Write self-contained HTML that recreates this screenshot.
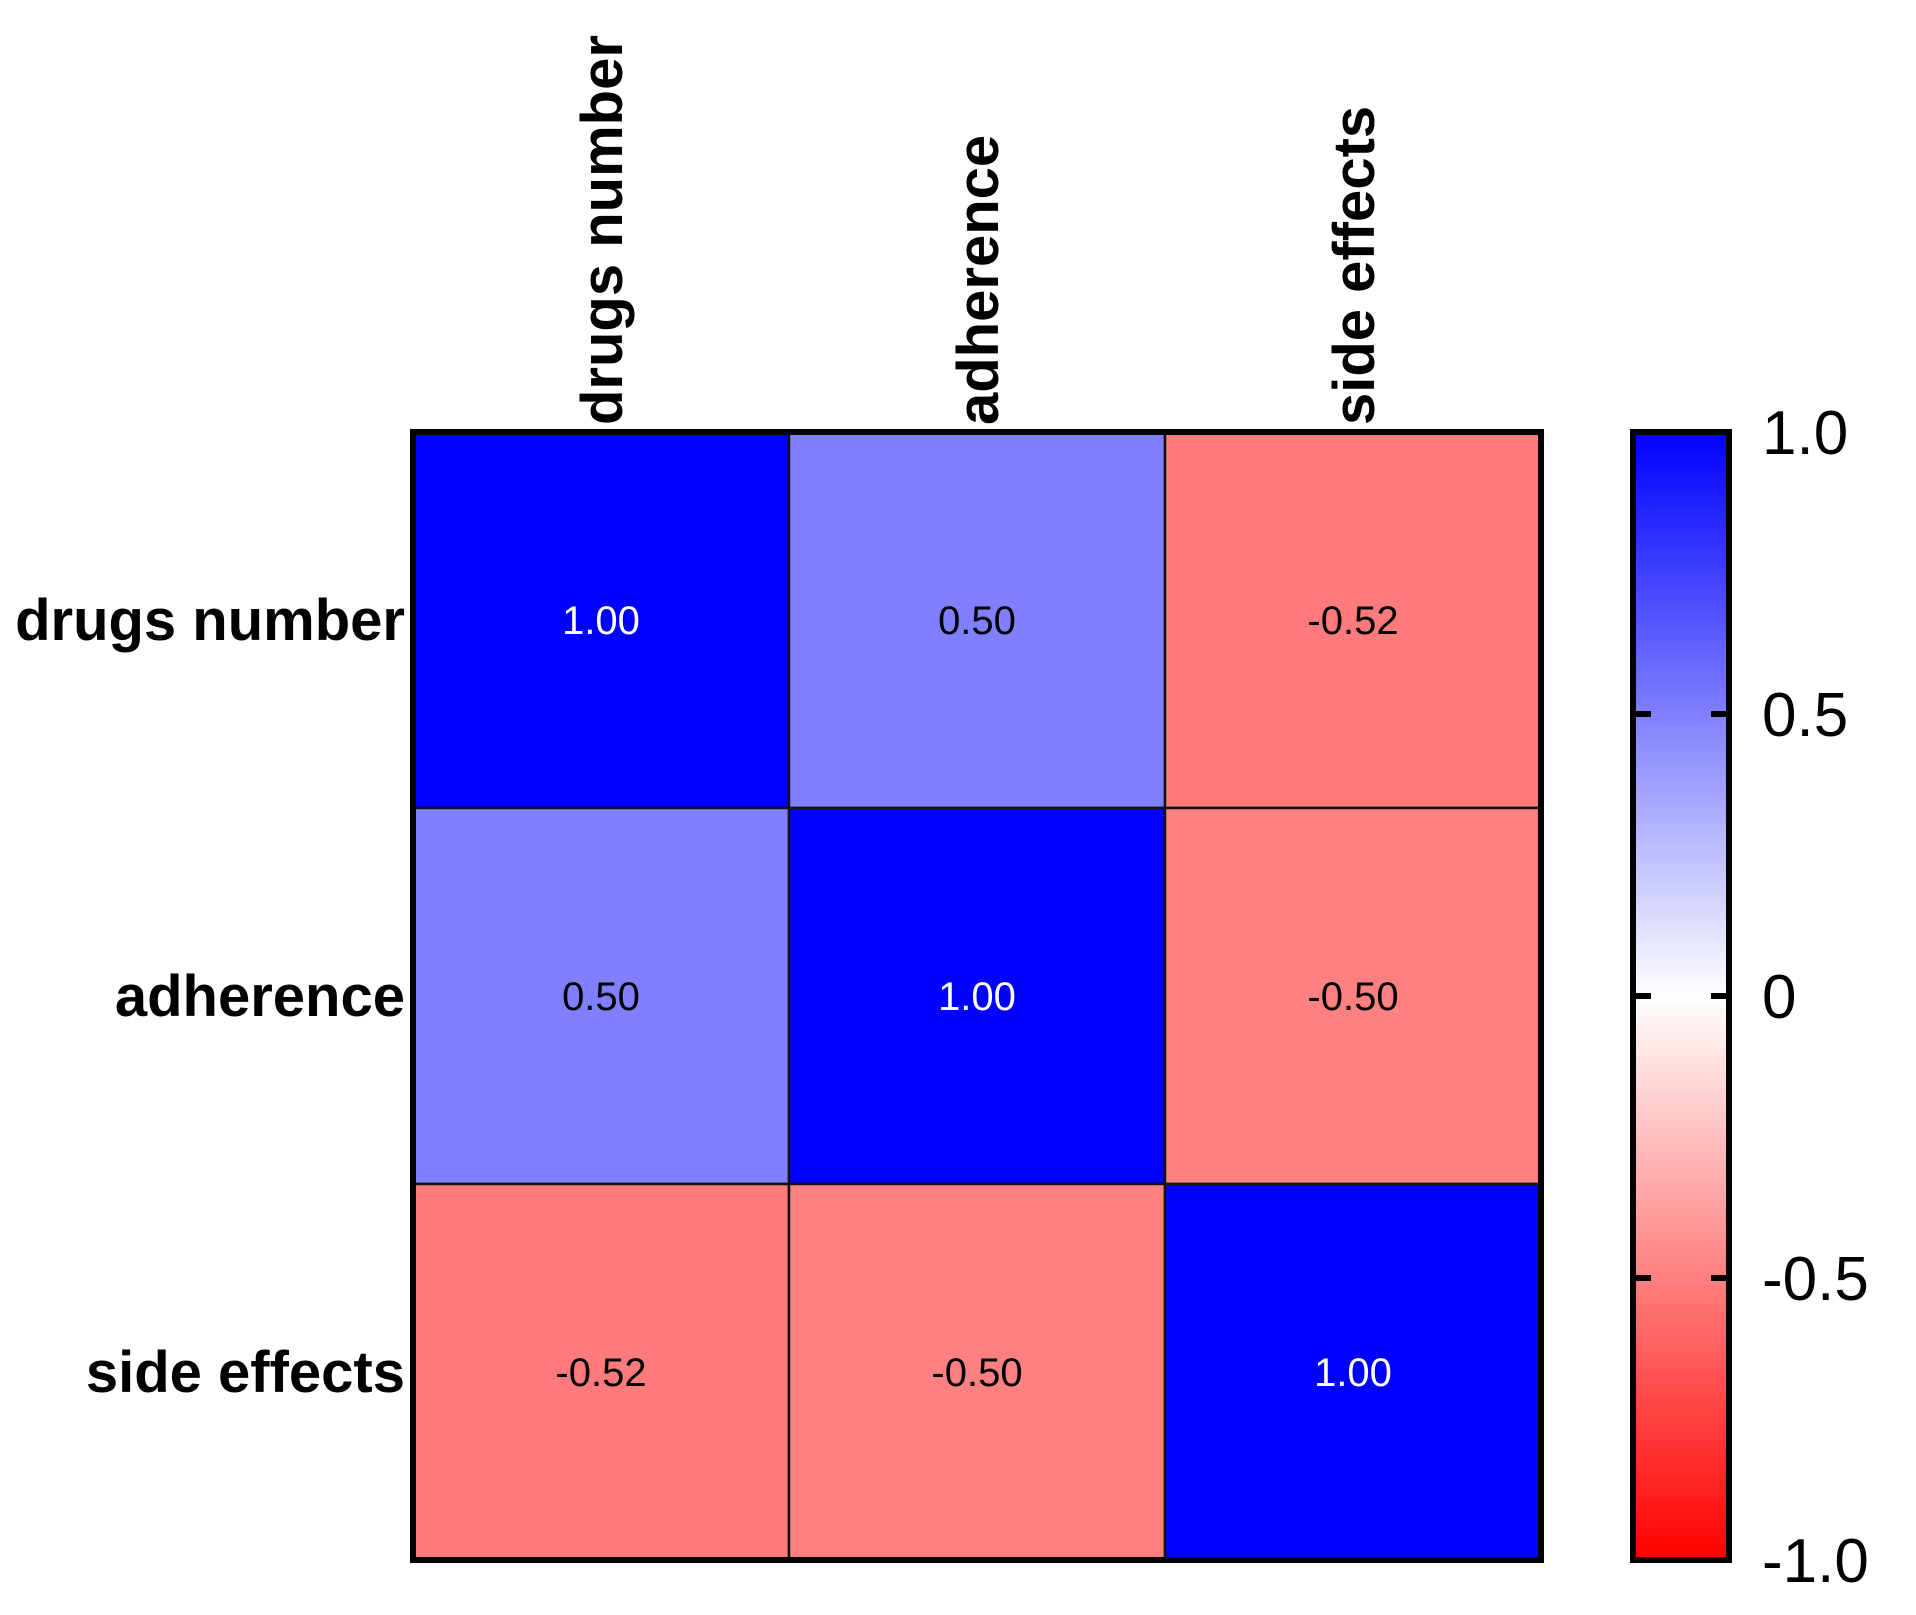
<!DOCTYPE html>
<html><head><meta charset="utf-8"><style>
body{margin:0;background:#fff;}
svg{display:block;font-family:"Liberation Sans",Arial,sans-serif;}
</style></head><body>
<svg id="chart" width="1916" height="1615" viewBox="0 0 1916 1615" xmlns="http://www.w3.org/2000/svg">
<defs>
<linearGradient id="cbar" x1="0" y1="0" x2="0" y2="1">
<stop offset="0" stop-color="#0000ff"/><stop offset="0.5" stop-color="#ffffff"/><stop offset="1" stop-color="#ff0000"/>
</linearGradient>
</defs>
<g id="cells"></g>
<g id="labels"></g>
<g id="cb"></g>
</svg>
<script>
const categories = ["drugs number", "adherence", "side effects"];
const row0 = [1.00, 0.50, -0.52];
const row1 = [0.50, 1.00, -0.50];
const row2 = [-0.52, -0.50, 1.00];
const matrix = [row0, row1, row2];
const cbTicks = [1.0, 0.5, 0, -0.5, -1.0];
const cbTickLabels = ["1.0", "0.5", "0", "-0.5", "-1.0"];

const NS = "http://www.w3.org/2000/svg";
const X0 = 413, X1 = 1541, Y0 = 432, Y1 = 1560;
const n = categories.length;
const cw = (X1 - X0) / n, ch = (Y1 - Y0) / n;
const xPos = i => X0 + i * cw;
const yPos = j => Y0 + j * ch;
function color(v){
  const t = Math.min(1, Math.abs(v));
  const c = Math.round(255 * (1 - t));
  return v >= 0 ? `rgb(${c},${c},255)` : `rgb(255,${c},${c})`;
}
function mk(tag, attrs, parent){
  const e = document.createElementNS(NS, tag);
  for (const k in attrs) e.setAttribute(k, attrs[k]);
  parent.appendChild(e); return e;
}
const cells = document.getElementById('cells');
const labels = document.getElementById('labels');
const cb = document.getElementById('cb');

matrix.forEach((row, j) => row.forEach((v, i) => {
  const r = mk('rect', {x: xPos(i), y: yPos(j), width: cw, height: ch, fill: color(v), stroke: '#111', 'stroke-width': 2.5}, cells);
  
  
  const t = mk('text', {x: xPos(i) + cw/2, y: yPos(j) + ch/2 + 14, 'text-anchor': 'middle', 'font-size': 40, fill: Math.abs(v) > 0.75 ? '#fff' : '#000'}, cells);
  t.textContent = v.toFixed(2);
  
  
}));
const border = mk('rect', {x: X0, y: Y0, width: X1 - X0, height: Y1 - Y0, fill: 'none', stroke: '#000', 'stroke-width': 6}, cells);



categories.forEach((c, j) => {
  const t = mk('text', {x: 405, y: yPos(j) + ch/2 + 20, 'text-anchor': 'end', 'font-size': 58, 'font-weight': 'bold'}, labels);
  t.textContent = c;
  
  
  const cx = xPos(j) + cw/2 + 21;
  const u = mk('text', {x: cx, y: 425, 'text-anchor': 'start', 'font-size': 58, 'font-weight': 'bold', transform: `rotate(-90 ${cx} 425)`}, labels);
  u.textContent = c;
  
  
});

// colorbar
const CX0 = 1633, CX1 = 1729;
const cbY = v => Y0 + (1 - v) / 2 * (Y1 - Y0);
const bar = mk('rect', {x: CX0, y: Y0, width: CX1 - CX0, height: Y1 - Y0, fill: 'url(#cbar)', stroke: '#000', 'stroke-width': 6}, cb);


cbTicks.forEach((v, k) => {
  const y = cbY(v);
  if (v !== 1 && v !== -1) {
    const a = mk('line', {x1: CX0, x2: CX0 + 18, y1: y, y2: y, stroke: '#000', 'stroke-width': 6}, cb);
    
    
    const b = mk('line', {x1: CX1 - 18, x2: CX1, y1: y, y2: y, stroke: '#000', 'stroke-width': 6}, cb);
    
    
  }
  const t = mk('text', {x: 1762, y: y + 22, 'font-size': 62}, cb);
  t.textContent = cbTickLabels[k];
  
  
});
</script>
</body></html>
